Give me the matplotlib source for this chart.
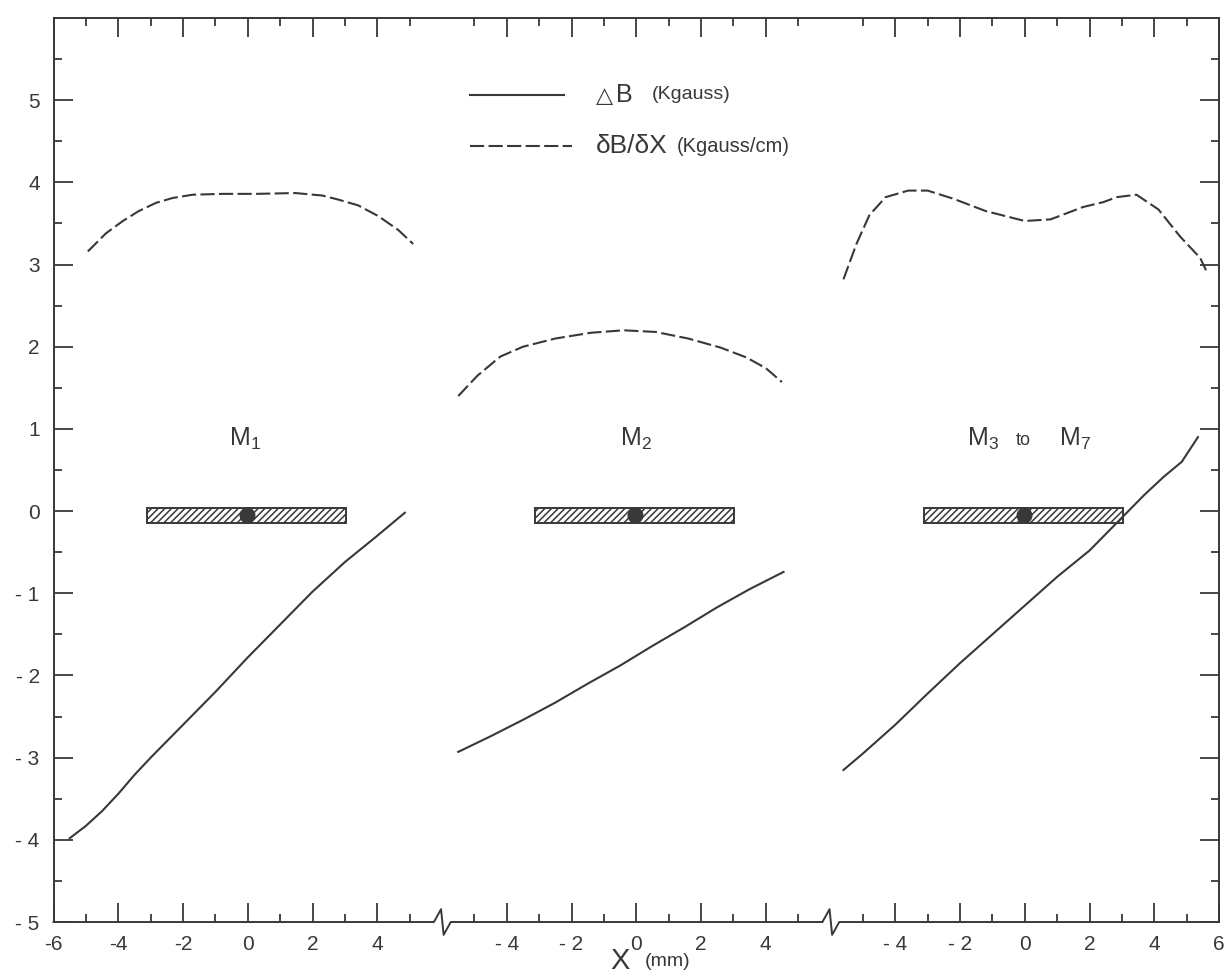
import numpy as np
import matplotlib.pyplot as plt
import matplotlib.transforms as mtransforms
from matplotlib.lines import Line2D

plt.rcParams['font.family'] = ['Liberation Sans', 'DejaVu Sans']
plt.rcParams['mathtext.fontset'] = 'custom'
plt.rcParams['mathtext.rm'] = 'Liberation Sans'
plt.rcParams['mathtext.it'] = 'Liberation Sans'
plt.rcParams['mathtext.default'] = 'regular'
plt.rcParams['hatch.linewidth'] = 1.1

INK = '#383838'

# field difference dB (Kgauss) across each magnet, X in mm
m1_x = [-5.5, -5.0, -4.5, -4.0, -3.5, -3.0, -2.0, -1.0, 0.0, 1.0, 2.0, 3.0, 4.0, 4.85]
m1_dB = [-3.98, -3.83, -3.65, -3.44, -3.21, -3.0, -2.6, -2.2, -1.78, -1.38, -0.98, -0.62, -0.3, -0.02]
m2_x = [-5.5, -4.5, -3.5, -2.5, -1.5, -0.5, 0.5, 1.5, 2.5, 3.5, 4.55]
m2_dB = [-2.93, -2.74, -2.54, -2.33, -2.1, -1.88, -1.64, -1.41, -1.17, -0.95, -0.74]
m3_x = [-5.6, -5.0, -4.0, -3.0, -2.0, -1.0, 0.0, 1.0, 2.0, 3.0, 3.7, 4.3, 4.85, 5.35]
m3_dB = [-3.15, -2.95, -2.6, -2.22, -1.85, -1.5, -1.15, -0.8, -0.48, -0.08, 0.2, 0.42, 0.6, 0.9]

# gradient dB/dX (Kgauss/cm)
m1_gx = [-4.94, -4.38, -3.86, -3.37, -2.84, -2.32, -1.7, -0.78, 0.24, 1.47, 2.3, 2.8, 3.41, 4.03, 4.65, 5.11]
m1_grad = [3.16, 3.38, 3.53, 3.65, 3.75, 3.81, 3.85, 3.86, 3.86, 3.87, 3.84, 3.79, 3.72, 3.59, 3.42, 3.25]
m2_gx = [-5.5, -4.9, -4.2, -3.5, -2.5, -1.4, -0.4, 0.6, 1.6, 2.6, 3.4, 4.0, 4.5]
m2_grad = [1.4, 1.65, 1.88, 2.0, 2.1, 2.17, 2.2, 2.18, 2.1, 1.99, 1.87, 1.74, 1.57]
m3_gx = [-5.6, -5.2, -4.8, -4.3, -3.6, -3.0, -2.2, -1.2, 0.0, 0.8, 1.8, 2.43, 2.84, 3.45, 4.13, 4.8, 5.42, 5.6]
m3_grad = [2.82, 3.25, 3.6, 3.82, 3.9, 3.9, 3.8, 3.65, 3.53, 3.55, 3.7, 3.76, 3.82, 3.85, 3.67, 3.34, 3.08, 2.93]

# hatched magnet outline and its centre
bar_left = [-3.12, -3.12, -3.12]
bar_right = [3.02, 3.02, 3.02]
bar_low = [-0.14, -0.14, -0.14]
bar_high = [0.04, 0.04, 0.04]
centre_x = [-0.03, -0.03, -0.03]
centre_y = [-0.05, -0.05, -0.05]

panel_dB = [(m1_x, m1_dB), (m2_x, m2_dB), (m3_x, m3_dB)]
panel_grad = [(m1_gx, m1_grad), (m2_gx, m2_grad), (m3_gx, m3_grad)]

# each panel spans 12 mm of a shared axis; X=0 sits at these positions
shift = [6, 18, 30]
breaks = [12, 24]

fig = plt.figure(figsize=(12.25, 9.73), dpi=100)
ax = fig.add_axes([0.0437, 0.0524, 0.9514, 0.9291])
ax.set_xlim(0, 36)
ax.set_ylim(-5, 6)

dash = (0, (6.8, 2.1))
for i in range(3):
    x, y = panel_dB[i]
    ax.plot(np.array(x) + shift[i], y, color=INK, lw=1.5)
    gx, gy = panel_grad[i]
    ax.plot(np.array(gx) + shift[i], gy, color=INK, lw=1.5, ls=dash)
    ax.bar(bar_left[i] + shift[i], bar_high[i] - bar_low[i],
           width=bar_right[i] - bar_left[i], bottom=bar_low[i], align='edge',
           facecolor='white', edgecolor=INK, lw=1.4, hatch='/////')
    ax.plot(centre_x[i] + shift[i], centre_y[i], 'o', color=INK, ms=10.5)

# magnet labels
ax.text(shift[0] - 0.1, 0.8, r'M$_1$', fontsize=18, color=INK, ha='center', va='baseline')
ax.text(shift[1], 0.8, r'M$_2$', fontsize=18, color=INK, ha='center', va='baseline')
ax.text(shift[2] - 1.3, 0.8, r'M$_3$', fontsize=18, color=INK, ha='center', va='baseline')
ax.text(shift[2] - 0.05, 0.8, 'to', fontsize=13, color=INK, ha='center', va='baseline')
ax.text(shift[2] + 1.55, 0.8, r'M$_7$', fontsize=18, color=INK, ha='center', va='baseline')

# ticks: even mm major, odd mm minor, skipping the break points
major = [g for g in range(0, 37, 2) if g not in breaks]
minor = [g for g in range(1, 36, 2)]
labels = []
for g in major:
    p = 0 if g < 12 else (1 if g < 24 else 2)
    v = g - shift[p]
    if v < 0:
        labels.append(f'-{-v}' if p == 0 else f'- {-v}')
    else:
        labels.append(str(v))
ax.set_xticks(major)
ax.set_xticklabels(labels)
ax.set_xticks(minor, minor=True)

yt = list(range(-5, 6))
ax.set_yticks(yt)
ax.set_yticklabels([str(v) if v >= 0 else f'- {-v}' for v in yt])
ax.set_yticks(np.arange(-4.5, 6, 1.0), minor=True)

ax.tick_params(which='both', direction='in', top=True, right=True, color=INK,
               width=1.3, labelcolor=INK, labelsize=15)
ax.tick_params(which='major', length=14)
ax.tick_params(which='minor', length=6)
ax.tick_params(axis='x', pad=9)
ax.tick_params(axis='y', pad=10)

for s in ['left', 'right', 'top']:
    ax.spines[s].set_color(INK)
    ax.spines[s].set_linewidth(1.4)
ax.spines['bottom'].set_visible(False)

# bottom axis with a zig-zag at each break
h = 0.0142
bx, by = [0], [0]
for b in breaks:
    bx += [b - 0.25, b - 0.03, b + 0.05, b + 0.27]
    by += [0, h, -h, 0]
bx.append(36)
by.append(0)
trans = mtransforms.blended_transform_factory(ax.transData, ax.transAxes)
ax.add_line(Line2D(bx, by, transform=trans, color=INK, lw=1.4, clip_on=False))

# key
ta = ax.transAxes
ax.add_line(Line2D([0.357, 0.438], [0.915, 0.915], transform=ta, color=INK, lw=1.5))
ax.add_line(Line2D([0.357, 0.445], [0.858, 0.858], transform=ta, color=INK, lw=1.5, ls=dash))
ax.text(0.4650, 0.914, '\u25b3', transform=ta, fontsize=16, color=INK, va='center',
        family=['DejaVu Sans'])
ax.text(0.4826, 0.915, 'B', transform=ta, fontsize=18, color=INK, va='center')
ax.text(0.5135, 0.915, '(Kgauss)', transform=ta, fontsize=14, color=INK, va='center')
ax.text(0.465, 0.858, '\u03b4B/\u03b4X', transform=ta, fontsize=19, color=INK, va='center')
ax.text(0.535, 0.858, '(Kgauss/cm)', transform=ta, fontsize=14.5, color=INK, va='center')

# axis title below the ticks
fig.text(0.5065, 0.004, 'X', fontsize=21, color=INK, ha='center', va='baseline')
fig.text(0.5265, 0.007, '(mm)', fontsize=14, color=INK, ha='left', va='baseline')

fig.savefig('out.png', dpi=100, facecolor='white')
